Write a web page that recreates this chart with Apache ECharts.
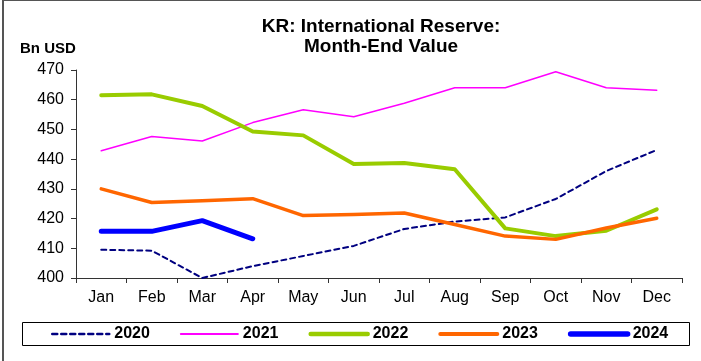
<!DOCTYPE html>
<html>
<head>
<meta charset="utf-8">
<script src="https://cdn.jsdelivr.net/npm/echarts@6/dist/echarts.min.js"></script>
<style>
  html, body { margin: 0; padding: 0; background: #fff; }
  #chart { width: 701px; height: 361px; }
</style>
</head>
<body>
<div id="chart"></div>
<script>
// months on the x axis
const months = ['Jan', 'Feb', 'Mar', 'Apr', 'May', 'Jun', 'Jul', 'Aug', 'Sep', 'Oct', 'Nov', 'Dec']

// month-end reserves, Bn USD
const y2020 = [409.5, 409.2, 400.0, 404.0, 407.4, 410.8, 416.5, 419.0, 420.4, 426.6, 436.0, 443.1]
const y2021 = [442.8, 447.6, 446.1, 452.3, 456.6, 454.3, 458.8, 464.0, 464.0, 469.4, 464.0, 463.2]
const y2022 = [461.5, 461.8, 457.9, 449.3, 448.0, 438.4, 438.7, 436.6, 416.7, 414.1, 415.9, 423.1]
const y2023 = [430.0, 425.4, 426.0, 426.7, 421.0, 421.4, 421.9, 418.0, 414.1, 413.0, 416.8, 420.1]
const y2024 = [415.7, 415.7, 419.3, 413.2]

const chart = echarts.init(document.getElementById('chart'))

const fontFamily = 'Liberation Sans, Arial, sans-serif'

const styles = {
  '2020': { color: '#000080', width: 2, type: [5, 4] },
  '2021': { color: '#ff00ff', width: 1.5, type: 'solid' },
  '2022': { color: '#99cc00', width: 4, type: 'solid' },
  '2023': { color: '#ff6600', width: 3.5, type: 'solid' },
  '2024': { color: '#0000ff', width: 5, type: 'solid' },
}

const mkLine = (name, data) => ({
  name,
  type: 'line',
  data,
  symbol: 'none',
  smooth: false,
  lineStyle: { ...styles[name], cap: 'round', join: 'round' },
  itemStyle: { color: styles[name].color },
})

chart.setOption({
  backgroundColor: '#fff',
  animation: false,
  textStyle: { fontFamily },
  title: {
    text: 'KR: International Reserve:\nMonth-End Value',
    left: 376,
    textAlign: 'center',
    top: 12,
    textStyle: { fontSize: 19, fontWeight: 'bold', color: '#000', lineHeight: 20, fontFamily },
  },
  graphic: [
    {
      type: 'rect',
      shape: { x: 3, y: 0, width: 740, height: 400 },
      style: { fill: 'none', stroke: '#555', lineWidth: 2 },
      silent: true,
    },
    {
      type: 'rect',
      shape: { x: 22.5, y: 322.5, width: 667, height: 23 },
      style: { fill: 'none', stroke: '#000', lineWidth: 1 },
      silent: true,
    },
    {
      type: 'text',
      left: 20,
      top: 41,
      style: { text: 'Bn USD', font: 'bold 15px ' + fontFamily, fill: '#000' },
    },
  ],
  legend: {
    data: Object.keys(styles).map(name => ({
      name,
      lineStyle: { color: styles[name].color, width: styles[name].width + 0.5, type: styles[name].type },
    })),
    left: 51,
    top: 326,
    padding: 0,
    itemWidth: 57,
    itemHeight: 14,
    itemGap: 30,
    itemStyle: { opacity: 0 },
    textStyle: { fontSize: 16, fontWeight: 'bold', color: '#000', padding: [0, 0, 0, 0] },
  },
  grid: { left: 76, right: 19, top: 70, bottom: 83 },
  xAxis: {
    type: 'category',
    data: months,
    boundaryGap: true,
    axisLine: { lineStyle: { color: '#333', width: 1 } },
    axisTick: { show: true, length: 5, inside: false, lineStyle: { color: '#333' } },
    axisLabel: { fontSize: 16, color: '#000', margin: 12 },
  },
  yAxis: {
    type: 'value',
    min: 400,
    max: 470,
    interval: 10,
    axisLine: { show: true, lineStyle: { color: '#333', width: 1 } },
    axisTick: { show: true, length: 5, lineStyle: { color: '#333' } },
    axisLabel: { fontSize: 16, color: '#000', margin: 12 },
    splitLine: { show: false },
  },
  series: [
    mkLine('2020', y2020),
    mkLine('2021', y2021),
    mkLine('2022', y2022),
    mkLine('2023', y2023),
    mkLine('2024', y2024),
  ],
})
</script>
</body>
</html>
